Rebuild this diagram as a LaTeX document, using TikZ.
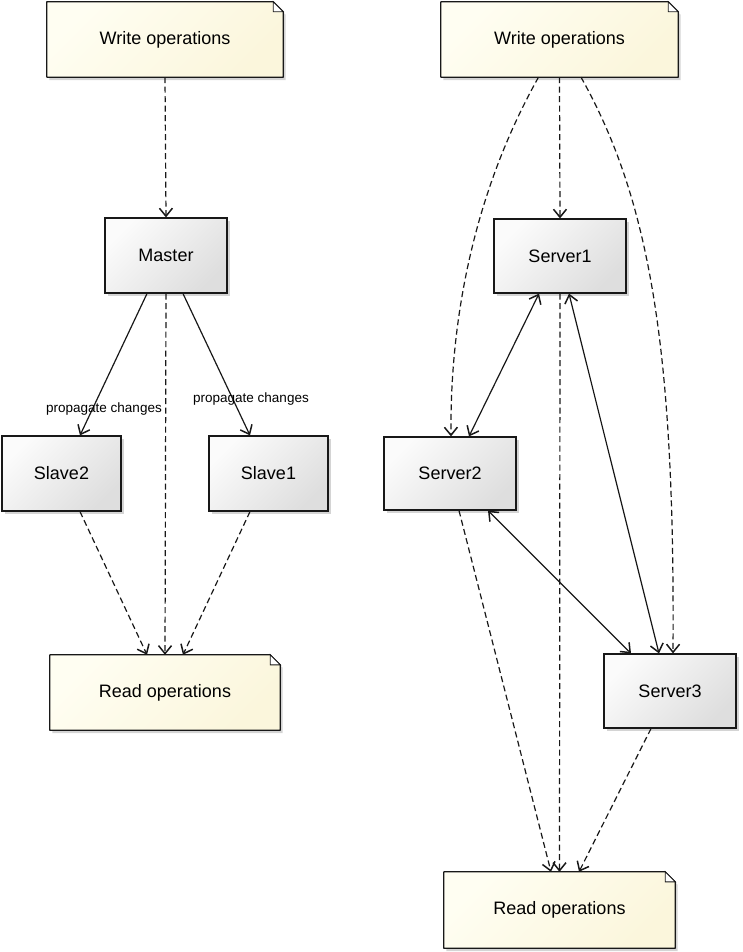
\documentclass[tikz,border=0pt]{standalone}
\usepackage{fontspec}
\setmainfont{Liberation Sans}
\usetikzlibrary{arrows.meta,shadows,backgrounds}
\definecolor{edgec}{HTML}{181818}
\definecolor{notelight}{HTML}{FFFEF2}
\definecolor{notedark}{HTML}{FBF6DC}
\definecolor{boxlight}{HTML}{FBFBFB}
\definecolor{boxdark}{HTML}{DEDEDE}
\tikzset{
  shadowed/.style={drop shadow={shadow xshift=2.5pt,shadow yshift=-3pt,opacity=0.28,fill=black!60}},
  box/.style={draw=edgec, line width=1.2pt, top color=boxlight, bottom color=boxdark,
    shading angle=45, shadowed, inner sep=0pt, font=\fontsize{18}{21}\selectfont},
  notetext/.style={inner sep=0pt, font=\fontsize{18}{21}\selectfont},
  noteshape/.style={draw=edgec, line width=1.2pt, top color=notelight, bottom color=notedark,
    shading angle=45, shadowed, line join=round},
  fold/.style={draw=edgec, line width=0.9pt, fill=white},
  vtip/.tip={Straight Barb[length=8pt,width=13pt,line width=1.5pt]},
  dashedge/.style={draw=edgec, line width=1.2pt, dash pattern=on 6pt off 3.5pt, -vtip},
  solidedge/.style={draw=edgec, line width=1.2pt, -vtip},
  biedge/.style={draw=edgec, line width=1.2pt, vtip-vtip},
  lbl/.style={inner sep=0pt, font=\fontsize{13.5}{16}\selectfont}
}
\begin{document}
\begin{tikzpicture}[x=1pt,y=-1pt]
\useasboundingbox (0,0) rectangle (742,952);
% ---------- left diagram ----------
\node[notetext, minimum width=236pt, minimum height=75pt] (lw) at (165,39.5) {Write operations};
\node[box, minimum width=122pt, minimum height=75pt] (master) at (166,255.5) {Master};
\node[box, minimum width=119pt, minimum height=75pt] (slave2) at (61.5,473.5) {Slave2};
\node[box, minimum width=119pt, minimum height=75pt] (slave1) at (268.5,473.5) {Slave1};
\node[notetext, minimum width=230pt, minimum height=75pt] (lr) at (165,692.5) {Read operations};
% ---------- right diagram ----------
\node[notetext, minimum width=237pt, minimum height=75pt] (rw) at (559.5,39.5) {Write operations};
\node[box, minimum width=132pt, minimum height=74pt] (s1) at (560,256) {Server1};
\node[box, minimum width=132pt, minimum height=73pt] (s2) at (450,473.5) {Server2};
\node[box, minimum width=132pt, minimum height=74pt] (s3) at (670,691) {Server3};
\node[notetext, minimum width=231pt, minimum height=76pt] (rr) at (559.5,910) {Read operations};
% ---------- note shapes ----------
\begin{scope}[on background layer]
\foreach \n in {lw,lr,rw,rr}{
  \path[noteshape] (\n.south west) -- (\n.north west) -- ([xshift=-10pt]\n.north east)
    -- ([yshift=-10pt]\n.north east) -- (\n.south east) -- cycle;
  \path[fold] ([xshift=-10pt]\n.north east) -- ([xshift=-10pt,yshift=-10pt]\n.north east)
    -- ([yshift=-10pt]\n.north east) -- cycle;
}
\end{scope}
% ---------- left edges ----------
\draw[dashedge] (lw.south) -- (master.north);
\draw[solidedge] ([xshift=-19pt]master.south) -- ([xshift=18.5pt]slave2.north);
\draw[solidedge] ([xshift=17pt]master.south) -- ([xshift=-18.5pt]slave1.north);
\draw[dashedge] (master.south) -- (lr.north);
\draw[dashedge] ([xshift=18.5pt]slave2.south) -- ([xshift=-18pt]lr.north);
\draw[dashedge] ([xshift=-18.5pt]slave1.south) -- ([xshift=18pt]lr.north);
\node[lbl] (lab1) at (104,409) {propagate changes};
\node[lbl] (lab2) at (251,399) {propagate changes};
% ---------- right edges ----------
\draw[dashedge] (rw.south) -- (s1.north);
\draw[dashedge] ([xshift=-21pt]rw.south) .. controls +(-69,123) and +(-1,-106) .. ([xshift=1pt]s2.north);
\draw[dashedge] ([xshift=21.5pt]rw.south) .. controls +(69,123) and +(2,-304) .. ([xshift=3pt]s3.north);
\draw[biedge] ([xshift=-21pt]s1.south) -- ([xshift=19pt]s2.north);
\draw[biedge] ([xshift=9pt]s1.south) -- ([xshift=-11pt]s3.north);
\draw[biedge] ([xshift=38pt]s2.south) -- ([xshift=-39pt]s3.north);
\draw[dashedge] (s1.south) -- (rr.north);
\draw[dashedge] ([xshift=9pt]s2.south) -- ([xshift=-8.5pt]rr.north);
\draw[dashedge] ([xshift=-19pt]s3.south) -- ([xshift=19.5pt]rr.north);
\end{tikzpicture}
\end{document}
